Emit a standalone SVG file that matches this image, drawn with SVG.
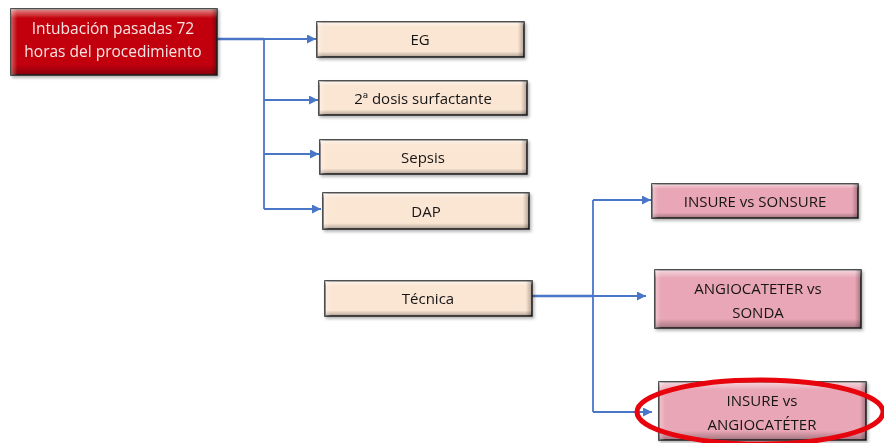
<svg xmlns="http://www.w3.org/2000/svg" width="884" height="443" viewBox="0 0 884 443">
  <style>
    .lbl { font-family: "Open Sans", "Liberation Sans", sans-serif; font-size: 15px; fill: #151515; text-anchor: middle; }
    .lblw { font-family: "Open Sans", "Liberation Sans", sans-serif; font-size: 15.5px; fill: #f6e4e4; text-anchor: middle; }
    .edge { stroke: #282828; stroke-width: 1.6; }
    .wire { fill: none; stroke: #4a76c8; stroke-width: 1.8; }
    .wire-thick { fill: none; stroke: #4a76c8; stroke-width: 2.6; }
  </style>
  <defs>
    <marker id="arr" viewBox="0 0 10 10" refX="10" refY="5" markerWidth="9" markerHeight="9" markerUnits="userSpaceOnUse" orient="auto">
      <path d="M0,0 L10,5 L0,10 z" fill="#4a76c8"/>
    </marker>
    <!-- bevel shading: top highlight, bottom shadow -->
    <linearGradient id="bevV" x1="0" y1="0" x2="0" y2="1">
      <stop offset="0" stop-color="#fff" stop-opacity="0.55"/>
      <stop offset="0.14" stop-color="#fff" stop-opacity="0"/>
      <stop offset="0.84" stop-color="#000" stop-opacity="0"/>
      <stop offset="1" stop-color="#000" stop-opacity="0.3"/>
    </linearGradient>
    <linearGradient id="bevH" x1="0" y1="0" x2="1" y2="0">
      <stop offset="0" stop-color="#fff" stop-opacity="0.35"/>
      <stop offset="0.03" stop-color="#fff" stop-opacity="0"/>
      <stop offset="0.97" stop-color="#000" stop-opacity="0"/>
      <stop offset="1" stop-color="#000" stop-opacity="0.3"/>
    </linearGradient>
    <filter id="sh" x="-5%" y="-10%" width="115%" height="130%">
      <feDropShadow dx="1.5" dy="2" stdDeviation="1.5" flood-color="#000" flood-opacity="0.3"/>
    </filter>
  </defs>

  <rect width="884" height="443" fill="#ffffff"/>

  <!-- connectors -->
  <g id="connectors">
    <path class="wire-thick" d="M217,39 H264"/>
    <path class="wire" d="M264,39 V209"/>
    <path class="wire" d="M264,39 H316" marker-end="url(#arr)"/>
    <path class="wire" d="M264,100 H318" marker-end="url(#arr)"/>
    <path class="wire" d="M264,154 H319" marker-end="url(#arr)"/>
    <path class="wire" d="M264,209 H321" marker-end="url(#arr)"/>

    <path class="wire-thick" d="M532,296 H593"/>
    <path class="wire" d="M593,200 V412"/>
    <path class="wire" d="M593,296 H646" marker-end="url(#arr)"/>
    <path class="wire" d="M593,200 H651" marker-end="url(#arr)"/>
    <path class="wire" d="M593,412 H652" marker-end="url(#arr)"/>
  </g>

  <!-- root node -->
  <g id="n-root" filter="url(#sh)">
    <rect x="11" y="9" width="206" height="66" fill="#c2040a" class="edge"/>
    <rect x="11" y="9" width="206" height="66" fill="url(#bevV)"/>
    <rect x="11" y="9" width="206" height="66" fill="url(#bevH)"/>
    <text class="lblw" x="113" y="34">Intubación pasadas 72</text>
    <text class="lblw" x="113" y="57">horas del procedimiento</text>
  </g>

  <g id="n-eg" filter="url(#sh)">
    <rect x="317" y="22" width="207" height="35" fill="#fbe6d4" class="edge"/>
    <rect x="317" y="22" width="207" height="35" fill="url(#bevV)"/>
    <rect x="317" y="22" width="207" height="35" fill="url(#bevH)"/>
    <text class="lbl" x="420" y="45">EG</text>
  </g>

  <g id="n-dosis" filter="url(#sh)">
    <rect x="319" y="81" width="208" height="34" fill="#fbe6d4" class="edge"/>
    <rect x="319" y="81" width="208" height="34" fill="url(#bevV)"/>
    <rect x="319" y="81" width="208" height="34" fill="url(#bevH)"/>
    <text class="lbl" x="423" y="103.5">2ª dosis surfactante</text>
  </g>

  <g id="n-sepsis" filter="url(#sh)">
    <rect x="320" y="140" width="207" height="34" fill="#fbe6d4" class="edge"/>
    <rect x="320" y="140" width="207" height="34" fill="url(#bevV)"/>
    <rect x="320" y="140" width="207" height="34" fill="url(#bevH)"/>
    <text class="lbl" x="423" y="162.5">Sepsis</text>
  </g>

  <g id="n-dap" filter="url(#sh)">
    <rect x="323" y="193" width="206" height="36" fill="#fbe6d4" class="edge"/>
    <rect x="323" y="193" width="206" height="36" fill="url(#bevV)"/>
    <rect x="323" y="193" width="206" height="36" fill="url(#bevH)"/>
    <text class="lbl" x="426" y="216.5">DAP</text>
  </g>

  <g id="n-tecnica" filter="url(#sh)">
    <rect x="325" y="281" width="207" height="35" fill="#fbe6d4" class="edge"/>
    <rect x="325" y="281" width="207" height="35" fill="url(#bevV)"/>
    <rect x="325" y="281" width="207" height="35" fill="url(#bevH)"/>
    <text class="lbl" x="428" y="304">Técnica</text>
  </g>

  <g id="n-insure-sonsure" filter="url(#sh)">
    <rect x="652" y="184" width="206" height="34" fill="#e9a6b6" class="edge"/>
    <rect x="652" y="184" width="206" height="34" fill="url(#bevV)"/>
    <rect x="652" y="184" width="206" height="34" fill="url(#bevH)"/>
    <text class="lbl" x="755" y="206.5">INSURE vs SONSURE</text>
  </g>

  <g id="n-angio-sonda" filter="url(#sh)">
    <rect x="655" y="270" width="206" height="58" fill="#e9a6b6" class="edge"/>
    <rect x="655" y="270" width="206" height="58" fill="url(#bevV)"/>
    <rect x="655" y="270" width="206" height="58" fill="url(#bevH)"/>
    <text class="lbl" x="758" y="293.5">ANGIOCATETER vs</text>
    <text class="lbl" x="758" y="317.5">SONDA</text>
  </g>

  <g id="n-insure-angio" filter="url(#sh)">
    <rect x="659" y="382" width="207" height="58" fill="#e9a6b6" class="edge"/>
    <rect x="659" y="382" width="207" height="58" fill="url(#bevV)"/>
    <rect x="659" y="382" width="207" height="58" fill="url(#bevH)"/>
    <text class="lbl" x="762" y="405.5">INSURE vs</text>
    <text class="lbl" x="762" y="429.5">ANGIOCATÉTER</text>
  </g>

  <!-- highlight ring -->
  <ellipse cx="760" cy="412" rx="123" ry="32" fill="none" stroke="#e8040c" stroke-width="5"/>
</svg>
